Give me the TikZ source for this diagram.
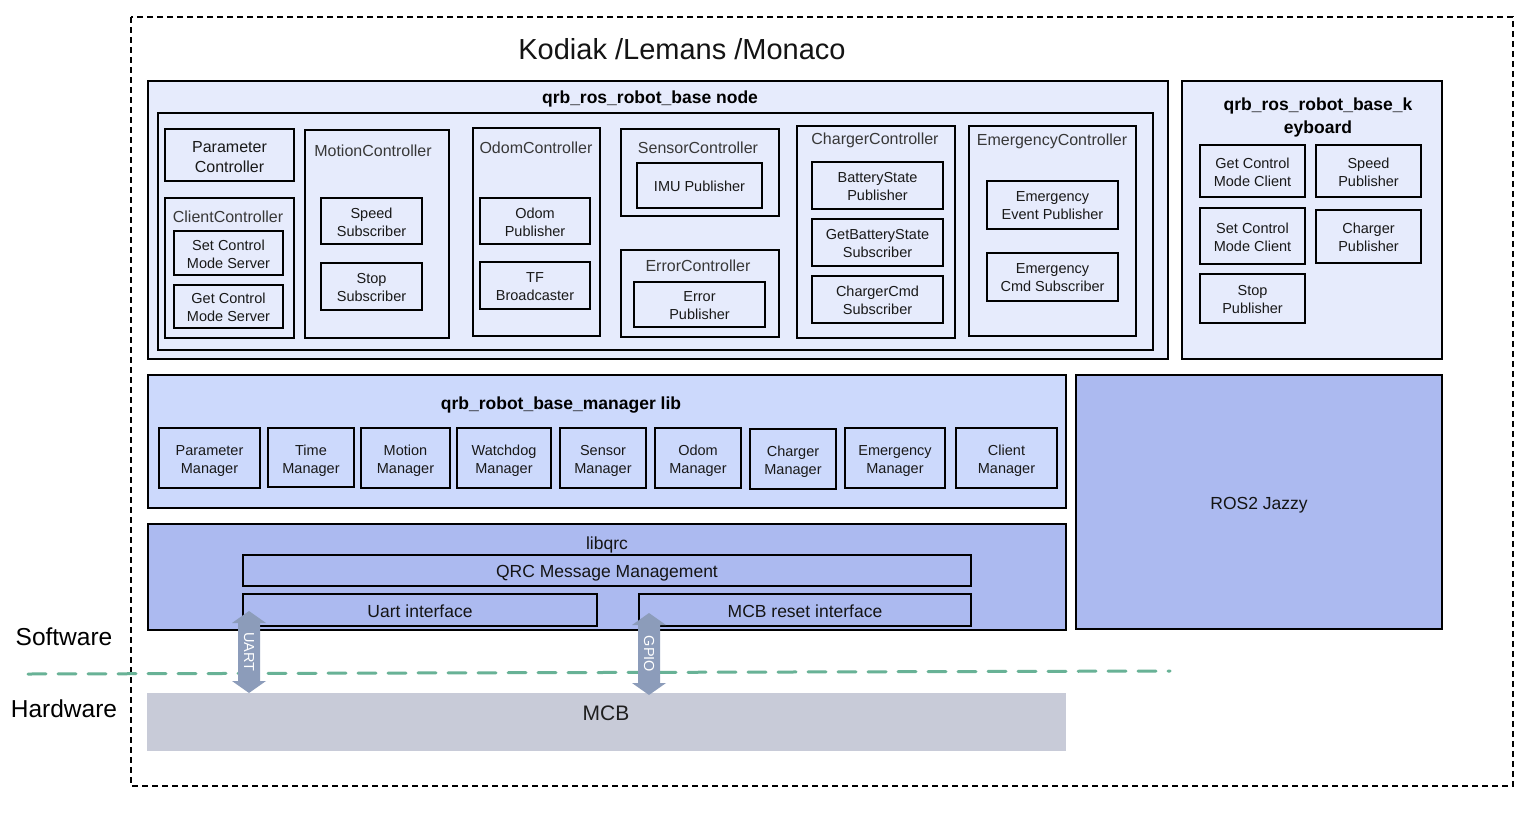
\documentclass[tikz,border=0pt]{standalone}
\usepackage{fontspec}
\setmainfont{Liberation Sans}
\definecolor{nodefill}{RGB}{230,235,252}
\definecolor{mgrfill}{RGB}{204,217,252}
\definecolor{libfill}{RGB}{172,186,240}
\definecolor{mcbfill}{RGB}{200,203,216}
\definecolor{arrowc}{RGB}{140,156,186}
\definecolor{sepc}{RGB}{104,178,150}
\def\tdy{1}
\newcommand\mybox[7]{%
  \node[#6, minimum width={#4-#2}, minimum height={#5-#3}] (#1) at ({(#2+#4)/2},{(#3+#5)/2}) {};
  \node[#6, draw=none, fill=none, minimum width=0pt, minimum height=0pt] (#1t) at ({(#2+#4)/2},{(#3+#5)/2+\tdy}) {#7};}
\newcommand\vdarrow[5]{%
  \fill[arrowc] (#2,#3) -- ({#2+17},{#3+12}) -- ({#2+11},{#3+12}) -- ({#2+11},{#4-12}) -- ({#2+17},{#4-12}) -- (#2,#4)
     -- ({#2-17},{#4-12}) -- ({#2-11},{#4-12}) -- ({#2-11},{#3+12}) -- ({#2-17},{#3+12}) -- cycle;
  \node[arrtxt] (#1) at (#2,{(#3+#4)/2}) {#5};}
\tikzset{
  cont/.style={draw, line width=1.8pt, inner sep=0pt},
  ibox/.style={draw, line width=1.8pt, inner sep=0pt, align=center, text=black!90, font=\fontsize{14.5}{18}\selectfont},
  pbox/.style={ibox, font=\fontsize{16}{20}\selectfont},
  lbl/.style={inner sep=0pt, text=black!78, font=\fontsize{16}{19}\selectfont},
  btitle/.style={inner sep=0pt, align=center, text=black, font=\bfseries\fontsize{17.5}{23}\selectfont},
  mtxt/.style={inner sep=0pt, align=center, text=black!92, font=\fontsize{17.5}{21}\selectfont},
  arrtxt/.style={rotate=-90, inner sep=0pt, text=white, font=\fontsize{14.5}{17}\selectfont},
  sideltx/.style={inner sep=0pt, text=black, font=\fontsize{24.5}{28}\selectfont},
  sepline/.style={draw=sepc, line width=3pt, line cap=round, dash pattern=on 18pt off 12pt},
}
\begin{document}
\begin{tikzpicture}[x=1pt,y=-1pt]
\useasboundingbox (0,0) rectangle (1536,814);
\fill[white] (0,0) rectangle (1536,814);
% outer dashed frame
\draw[line width=1.6pt, dash pattern=on 6pt off 4pt] (131,17) rectangle (1513,786);
\node[inner sep=0pt, text=black!92, font=\fontsize{29}{34}\selectfont] (title) at (682,49) {Kodiak /Lemans /Monaco};

% ---- qrb_ros_robot_base node ----
\mybox{nodebox}{148}{81}{1168}{359}{cont, fill=nodefill}{}
\node[btitle] (nodettl) at (650,98.5) {qrb\_ros\_robot\_base node};
\mybox{nodeinner}{158}{113}{1153}{350}{cont}{}

\def\tdy{2}
\mybox{pc}{165}{129}{294}{181}{pbox}{Parameter\\Controller}
\def\tdy{1}

\mybox{cc}{165}{198}{294}{338}{cont}{}
\node[lbl] (ccl) at (228,217) {ClientController};
\mybox{scms}{174}{231}{283}{275}{ibox}{Set Control\\Mode Server}
\mybox{gcms}{174}{285}{283}{328}{ibox}{Get Control\\Mode Server}

\mybox{mc}{305}{130}{449}{338}{cont}{}
\node[lbl] (mcl) at (373,151) {MotionController};
\mybox{ssub}{321}{198}{422}{244}{ibox}{Speed\\Subscriber}
\mybox{stsub}{321}{263}{422}{310}{ibox}{Stop\\Subscriber}

\mybox{oc}{473}{128}{600}{336}{cont}{}
\node[lbl] (ocl) at (536,148) {OdomController};
\mybox{opub}{480}{198}{590}{244}{ibox}{Odom\\Publisher}
\mybox{tfb}{480}{262}{590}{309}{ibox}{TF\\Broadcaster}

\mybox{sc}{621}{129}{779}{216}{cont}{}
\node[lbl] (scl) at (698,148) {SensorController};
\mybox{imu}{637}{163}{762}{208}{ibox}{IMU Publisher}

\mybox{ec}{621}{250}{779}{337}{cont}{}
\node[lbl] (ecl) at (698,266) {ErrorController};
\mybox{epub}{634}{282}{765}{327}{ibox}{Error\\Publisher}

\mybox{chc}{797}{126}{955}{338}{cont}{}
\node[lbl] (chcl) at (875,140) {ChargerController};
\mybox{bsp}{812}{162}{943}{209}{ibox}{BatteryState\\Publisher}
\mybox{gbss}{812}{219}{943}{266}{ibox}{GetBatteryState\\Subscriber}
\mybox{ccs}{812}{276}{943}{323}{ibox}{ChargerCmd\\Subscriber}

\mybox{emc}{969}{126}{1136}{336}{cont}{}
\node[lbl] (emcl) at (1052,141) {EmergencyController};
\mybox{eep}{987}{181}{1118}{229}{ibox}{Emergency\\Event Publisher}
\mybox{ecsub}{987}{253}{1118}{301}{ibox}{Emergency\\Cmd Subscriber}

% ---- keyboard ----
\mybox{kb}{1182}{81}{1442}{359}{cont, fill=nodefill}{}
\node[btitle] (kbttl) at (1318,117) {qrb\_ros\_robot\_base\_k\\eyboard};
\mybox{gcmc}{1200}{145}{1305}{197}{ibox}{Get Control\\Mode Client}
\mybox{spub}{1316}{145}{1421}{197}{ibox}{Speed\\Publisher}
\mybox{scmc}{1200}{208}{1305}{264}{ibox}{Set Control\\Mode Client}
\mybox{cpub}{1316}{210}{1421}{263}{ibox}{Charger\\Publisher}
\mybox{stpub}{1200}{274}{1305}{323}{ibox}{Stop\\Publisher}

% ---- manager lib ----
\mybox{mgr}{148}{375}{1066}{508}{cont, fill=mgrfill}{}
\node[btitle] (mgrttl) at (561,405) {qrb\_robot\_base\_manager lib};
\def\tdy{3}
\mybox{pm}{159}{428}{260}{488}{ibox}{Parameter\\Manager}
\mybox{tm}{268}{428}{354}{487}{ibox}{Time\\Manager}
\mybox{mm}{361}{428}{450}{488}{ibox}{Motion\\Manager}
\mybox{wm}{457}{428}{551}{488}{ibox}{Watchdog\\Manager}
\mybox{sm}{560}{428}{646}{488}{ibox}{Sensor\\Manager}
\mybox{om}{655}{428}{741}{488}{ibox}{Odom\\Manager}
\mybox{chm}{750}{429}{836}{489}{ibox}{Charger\\Manager}
\mybox{em}{845}{428}{945}{488}{ibox}{Emergency\\Manager}
\mybox{clm}{956}{428}{1057}{488}{ibox}{Client\\Manager}

% ---- ROS2 ----
\mybox{ros}{1076}{375}{1442}{629}{cont, fill=libfill, text=black!92, font=\fontsize{17.5}{21}\selectfont}{ROS2 Jazzy}

% ---- libqrc ----
\mybox{lib}{148}{524}{1066}{630}{cont, fill=libfill}{}
\node[mtxt] (libl) at (607,544.5) {libqrc};
\mybox{qrc}{243}{555}{971}{586}{cont, mtxt}{QRC Message Management}
\def\tdy{1}
\mybox{uart}{243}{594}{597}{626}{cont, mtxt}{Uart interface}
\mybox{mcbr}{639}{594}{971}{626}{cont, mtxt}{MCB reset interface}

% ---- MCB ----
\mybox{mcb}{147}{693}{1066}{751}{fill=mcbfill, inner sep=0pt}{}
\node[inner sep=0pt, text=black!88, font=\fontsize{21}{25}\selectfont] (mcbl) at (606,713) {MCB};

% ---- side labels ----
\node[sideltx] (sw) at (64,637) {Software};
\node[sideltx] (hw) at (64,709) {Hardware};

% ---- separator ----
\coordinate (sepl) at (28,674);
\coordinate (sepr) at (1170,671);
\draw[sepline] (sepl) -- (sepr);

% ---- arrows ----
\vdarrow{uarta}{249}{611}{693}{UART}
\vdarrow{gpioa}{649}{613}{695}{GPIO}
\end{tikzpicture}
\end{document}
